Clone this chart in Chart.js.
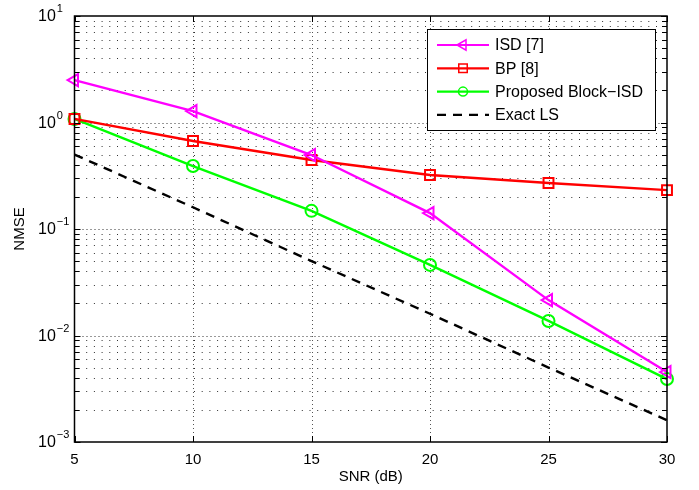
<!DOCTYPE html>
<html>
<head>
<meta charset="utf-8">
<script src="https://cdn.jsdelivr.net/npm/chart.js@4/dist/chart.umd.min.js"></script>
<style>
  html, body { margin: 0; padding: 0; background: #fff; }
</style>
</head>
<body>
<canvas id="nmseChart" width="699" height="490"></canvas>
<script>
const snr = [5, 10, 15, 20, 25, 30];
const isd = [2.5, 1.28, 0.495, 0.141, 0.0215, 0.00454];
const bp = [1.08, 0.67, 0.445, 0.321, 0.27, 0.232];
const blockIsd = [1.08, 0.39, 0.148, 0.046, 0.0137, 0.0039];
const exactLs = [0.5, 0.16, 0.05, 0.016, 0.005, 0.0016];
const yDecades = [-3, -2, -1, 0, 1];

const FONT = '"Liberation Sans", Arial, Helvetica, sans-serif';

function pts(ys) {
  return snr.map((x, i) => ({ x: x, y: ys[i] }));
}

function drawMarker(ctx, style, x, y, r) {
  ctx.beginPath();
  if (style === 'triangleLeft') {
    ctx.moveTo(x - r, y);
    ctx.lineTo(x + r * 0.5, y - r * 0.866);
    ctx.lineTo(x + r * 0.5, y + r * 0.866);
    ctx.closePath();
  } else if (style === 'rect') {
    const s = r * Math.SQRT1_2;
    ctx.rect(x - s, y - s, 2 * s, 2 * s);
  } else if (style === 'circle') {
    ctx.arc(x, y, r, 0, Math.PI * 2);
  }
  ctx.stroke();
}

function hline(ctx, x1, x2, y) {
  ctx.beginPath(); ctx.moveTo(x1, y); ctx.lineTo(x2, y); ctx.stroke();
}
function vline(ctx, x, y1, y2) {
  ctx.beginPath(); ctx.moveTo(x, y1); ctx.lineTo(x, y2); ctx.stroke();
}

// matlab style box, dotted grid, inward ticks, 10^n labels, legend
const matlabAxes = {
  id: 'matlabAxes',
  beforeDatasetsDraw(chart) {
    const { ctx, chartArea: a, scales: { x, y } } = chart;
    ctx.save();
    ctx.lineWidth = 1;
    ctx.strokeStyle = '#555';
    ctx.setLineDash([1, 3]);
    snr.forEach(v => {
      if (v === 5 || v === 30) return;
      vline(ctx, Math.round(x.getPixelForValue(v)) + 0.5, a.top, a.bottom);
    });
    ctx.strokeStyle = '#333';
    yDecades.forEach(d => {
      for (let m = 1; m <= 9; m++) {
        const v = m * Math.pow(10, d);
        if (v <= 0.001 || v >= 10) continue;
        ctx.setLineDash(m === 1 ? [1, 3] : [1, 6.7]);
        hline(ctx, a.left + 4, a.right, Math.round(y.getPixelForValue(v)) + 0.5);
      }
    });
    ctx.restore();
  },
  afterDatasetsDraw(chart) {
    const { ctx, chartArea: a, scales: { x, y } } = chart;
    ctx.save();
    ctx.setLineDash([]);
    ctx.strokeStyle = '#000';
    ctx.lineWidth = 1.5;
    ctx.strokeRect(a.left, a.top, a.right - a.left, a.bottom - a.top);

    // ticks
    ctx.lineWidth = 1;
    snr.forEach(v => {
      const px = Math.round(x.getPixelForValue(v)) + 0.5;
      vline(ctx, px, a.bottom, a.bottom - 6);
      vline(ctx, px, a.top, a.top + 6);
    });
    yDecades.forEach(d => {
      for (let m = 1; m <= 9; m++) {
        const v = m * Math.pow(10, d);
        if (v < 0.001 || v > 10) continue;
        const py = Math.round(y.getPixelForValue(v)) + 0.5;
        const len = m === 1 ? 6 : 5;
        hline(ctx, a.left, a.left + len, py);
        hline(ctx, a.right - len, a.right, py);
      }
    });

    // y labels 10^n
    ctx.fillStyle = '#000';
    ctx.textBaseline = 'middle';
    ctx.textAlign = 'left';
    yDecades.forEach(d => {
      const py = y.getPixelForValue(Math.pow(10, d));
      const exp = d < 0 ? '\u2212' + Math.abs(d) : String(d);
      ctx.font = '16px ' + FONT;
      const bw = ctx.measureText('10').width;
      ctx.fillText('10', 38, py + 1);
      ctx.font = '11px ' + FONT;
      ctx.fillText(exp, 38 + bw + 1, py - 7);
    });

    // legend
    const lx = 427, ly = 29, lw = 228, lh = 101;
    ctx.fillStyle = '#fff';
    ctx.fillRect(lx, ly, lw, lh);
    ctx.lineWidth = 1;
    ctx.strokeStyle = '#000';
    ctx.strokeRect(lx + 0.5, ly + 0.5, lw, lh);
    chart.data.datasets.forEach((ds, i) => {
      const cy = 45 + i * 23.3;
      ctx.strokeStyle = ds.borderColor;
      ctx.lineWidth = 2.2;
      ctx.setLineDash(ds.borderDash || []);
      hline(ctx, 437, 489, cy);
      ctx.setLineDash([]);
      if (ds.legendMarker) {
        ctx.lineWidth = 1.5;
        drawMarker(ctx, ds.legendMarker, 463, cy, ds.legendMarker === 'circle' ? 4.5 : 6);
      }
      ctx.fillStyle = '#000';
      ctx.font = '16px ' + FONT;
      ctx.textAlign = 'left';
      ctx.textBaseline = 'middle';
      ctx.fillText(ds.label, 495, cy + 1);
    });
    ctx.restore();
  }
};

const nmseChart = new Chart(document.getElementById('nmseChart'), {
  type: 'line',
  data: {
    datasets: [
      {
        label: 'ISD [7]',
        data: pts(isd),
        borderColor: '#ff00ff',
        borderWidth: 2.4,
        pointStyle: 'triangle',
        rotation: -90,
        pointRadius: 7,
        pointBorderWidth: 2,
        pointBackgroundColor: 'rgba(0,0,0,0)',
        legendMarker: 'triangleLeft',
      },
      {
        label: 'BP [8]',
        data: pts(bp),
        borderColor: '#ff0000',
        borderWidth: 2.4,
        pointStyle: 'rect',
        pointRadius: 7,
        pointBorderWidth: 2,
        pointBackgroundColor: 'rgba(0,0,0,0)',
        legendMarker: 'rect',
      },
      {
        label: 'Proposed Block\u2212ISD',
        data: pts(blockIsd),
        borderColor: '#00ff00',
        borderWidth: 2.4,
        pointStyle: 'circle',
        pointRadius: 6,
        pointBorderWidth: 2,
        pointBackgroundColor: 'rgba(0,0,0,0)',
        legendMarker: 'circle',
      },
      {
        label: 'Exact LS',
        data: pts(exactLs),
        borderColor: '#000000',
        borderWidth: 2.4,
        borderDash: [9, 7],
        pointRadius: 0,
      },
    ],
  },
  options: {
    responsive: false,
    animation: false,
    clip: false,
    layout: { padding: { left: 0, right: 32, top: 16, bottom: 0 } },
    elements: { line: { tension: 0 } },
    scales: {
      x: {
        type: 'linear',
        min: 5,
        max: 30,
        grid: { display: false, drawTicks: false },
        border: { display: false },
        ticks: {
          stepSize: 5,
          padding: 9,
          color: '#000',
          font: { family: FONT, size: 15 },
        },
        title: {
          display: true,
          text: 'SNR (dB)',
          color: '#000',
          font: { family: FONT, size: 15 },
          padding: { top: 0, bottom: 4 },
        },
        afterFit(scale) { scale.height = 48; },
      },
      y: {
        type: 'logarithmic',
        min: 0.001,
        max: 10,
        grid: { display: false, drawTicks: false },
        border: { display: false },
        ticks: { display: false },
        title: {
          display: true,
          text: 'NMSE',
          color: '#000',
          font: { family: FONT, size: 15 },
          padding: { top: 11, bottom: 0 },
        },
        afterFit(scale) { scale.width = 74.5; },
      },
    },
    plugins: {
      legend: { display: false },
      tooltip: { enabled: false },
    },
  },
  plugins: [matlabAxes],
});
</script>
</body>
</html>
